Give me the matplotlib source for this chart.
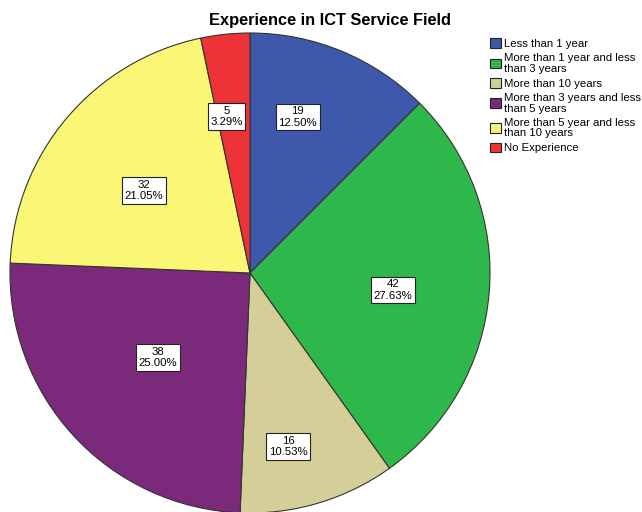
import matplotlib
matplotlib.use("Agg")
import matplotlib.pyplot as plt
import matplotlib.patches as mpatches
import numpy as np

plt.rcParams['font.family'] = ['Liberation Sans', 'DejaVu Sans']

# data
categories = ["Less than 1 year",
              "More than 1 year and less\nthan 3 years",
              "More than 10 years",
              "More than 3 years and less\nthan 5 years",
              "More than 5 year and less\nthan 10 years",
              "No Experience"]
counts = [19, 42, 16, 38, 32, 5]
colors = ["#3e58ac", "#2eb84b", "#d4cf98", "#7b2a7b", "#fbf776", "#ee3338"]
# label placement: fraction of radius and angle nudge in degrees (layout only)
label_r = [0.68, 0.60, 0.74, 0.52, 0.56, 0.66]
label_dang = [5.5, -2.1, -4.2, 0.0, 2.5, 2.7]

fig = plt.figure(figsize=(6.42, 5.12), dpi=100)
ax = fig.add_axes([0, 0, 1, 1])

cx, cy, R = 250, 512 - 273, 240
wedges, _ = ax.pie(counts, colors=colors, startangle=90, counterclock=False,
                   center=(cx, cy), radius=R, frame=True,
                   wedgeprops=dict(edgecolor="#333333", linewidth=0.8))
ax.set_xlim(0, 642)
ax.set_ylim(0, 512)
ax.set_aspect("equal")
ax.axis("off")

total = sum(counts)
for w, n, fr, da in zip(wedges, counts, label_r, label_dang):
    ang = np.deg2rad((w.theta1 + w.theta2) / 2 + da)
    x = cx + fr * R * np.cos(ang)
    y = cy + fr * R * np.sin(ang)
    ax.text(x, y, f"{n}\n{n / total * 100:.2f}%", ha="center", va="center",
            fontsize=8.2, linespacing=1.2,
            bbox=dict(boxstyle="square,pad=0.22", facecolor="white",
                      edgecolor="#222222", linewidth=0.8))

fig.text(330 / 642, 1 - 21 / 512, "Experience in ICT Service Field",
         ha="center", va="center", fontsize=11.8, fontweight="bold")

handles = [mpatches.Patch(facecolor=c, edgecolor="#222222", linewidth=0.8) for c in colors]
leg = fig.legend(handles, categories, loc="upper left",
                 bbox_to_anchor=(490 / 642, 1 - 38 / 512), frameon=False,
                 fontsize=8.2, handlelength=0.95, handleheight=0.95,
                 handletextpad=0.3, labelspacing=0.37, borderpad=0, borderaxespad=0)
for t in leg.get_texts():
    t.set_linespacing(1.08)

fig.savefig("out.png", dpi=100)
